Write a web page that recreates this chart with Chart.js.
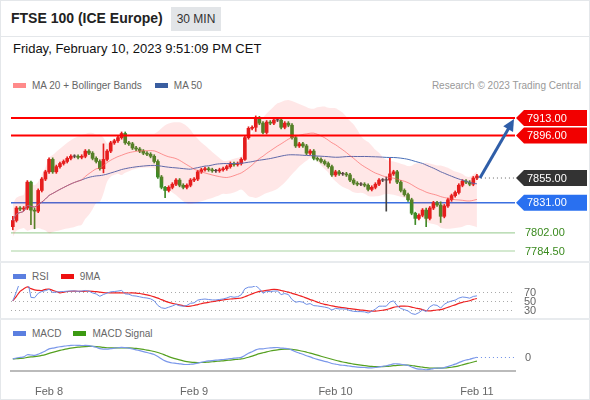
<!DOCTYPE html>
<html>
<head>
<meta charset="utf-8">
<script src="https://cdn.jsdelivr.net/npm/chart.js@4"></script>
<style>
  body { margin:0; width:590px; height:400px; background:#fff; font-family:"Liberation Sans", Arial, sans-serif; position:relative; overflow:hidden; }
  .frame { position:absolute; left:0; top:0; width:588px; height:398px; border:1px solid #e4e7ea; }
  .hdr { position:absolute; left:0; top:0; width:590px; height:36px; border-bottom:1px solid #e4e7ea; }
  .title { position:absolute; left:11px; top:10px; font-size:14px; font-weight:bold; color:#222; }
  .badge { position:absolute; left:171px; top:7px; width:50px; height:24px; background:#e2e5e8; font-size:12px; color:#333; line-height:24px; text-align:center; }
  .date { position:absolute; left:13px; top:41px; font-size:13px; color:#111; }
  .leg { position:absolute; font-size:10px; color:#666; white-space:nowrap; }
  .sw { display:inline-block; width:13px; height:5px; vertical-align:middle; margin-right:6px; margin-top:-2px; }
  .sep { position:absolute; left:0; width:590px; height:2px; background:#e8ebee; }
  canvas { position:absolute; left:0; }
</style>
</head>
<body>
<div class="frame"></div>
<div class="hdr"><div class="title">FTSE 100 (ICE Europe)</div><div class="badge">30 MIN</div></div>
<div class="date">Friday, February 10, 2023 9:51:09 PM CET</div>
<div class="leg" style="left:13px;top:80px"><span class="sw" style="background:#ff8a8a"></span>MA 20 + Bollinger Bands<span class="sw" style="background:#3a5ea0;margin-left:13px"></span>MA 50</div>
<div class="leg" style="right:9px;top:80px;color:#999">Research © 2023 Trading Central</div>
<div class="sep" style="top:261px"></div>
<div class="leg" style="left:13px;top:271px"><span class="sw" style="background:#5b7fe0"></span>RSI<span class="sw" style="background:#ee1111;margin-left:12px"></span>9MA</div>
<div class="sep" style="top:318px"></div>
<div class="leg" style="left:13px;top:328px"><span class="sw" style="background:#5b7fe0"></span>MACD<span class="sw" style="background:#3c9a12;margin-left:12px"></span>MACD Signal</div>
<canvas id="mainChart" style="top:95px" width="590" height="165"></canvas>
<canvas id="rsiChart" style="top:286px" width="590" height="32"></canvas>
<canvas id="macdChart" style="top:340px" width="590" height="58"></canvas>
<script>
// 30 min closes
const closes = [
  7814, 7826, 7825, 7826, 7851, 7824, 7823, 7843, 7854, 7861, 7873, 7861, 7866, 7869, 7871, 7874,
  7876, 7876, 7875, 7876, 7881, 7879, 7874, 7871, 7864, 7873, 7881, 7889, 7891, 7894, 7898, 7889,
  7888, 7884, 7883, 7881, 7879, 7878, 7876, 7871, 7856, 7846, 7843, 7846, 7849, 7853, 7848, 7846,
  7848, 7853, 7854, 7861, 7863, 7864, 7863, 7862, 7862, 7863, 7864, 7866, 7869, 7868, 7869, 7873,
  7894, 7903, 7904, 7913, 7908, 7899, 7909, 7908, 7911, 7911, 7904, 7908, 7906, 7894, 7886, 7888,
  7886, 7879, 7881, 7874, 7873, 7871, 7869, 7866, 7858, 7861, 7859, 7859, 7858, 7853, 7850, 7849,
  7849, 7848, 7844, 7846, 7849, 7853, 7853, 7853, 7859, 7861, 7851, 7843, 7839, 7834, 7821, 7816,
  7819, 7824, 7816, 7826, 7831, 7829, 7818, 7828, 7834, 7838, 7841, 7848, 7852, 7851, 7849, 7855, 7857
];
const firstOpen = 7808;
// notable wicks: index -> [low, high]
const wickExtremes = { 0: [7805, 7818], 5: [7810, 7852], 6: [7806, 7826], 25: [7860, 7888], 42: [7836, 7847],
  64: [7872, 7896], 67: [7900, 7915], 103: [7823, 7856], 104: [7850, 7874], 111: [7810, 7822], 114: [7808, 7826], 118: [7812, 7832] };
const dayLabels = { 10: 'Feb 8', 50: 'Feb 9', 89: 'Feb 10', 128: 'Feb 11' };
const resistance = [7913.00, 7896.00];
const lastPrice = 7855.00;
const pivot = 7831.00;
const supports = [7802.00, 7784.50];
const totalSlots = 139;

const labels = Array.from({ length: totalSlots }, (_, i) => i);
const opens = closes.map((c, i) => i === 0 ? firstOpen : closes[i - 1]);
const bodies = closes.map((c, i) => [opens[i], c === opens[i] ? c + 0.4 : c]);
const wicks = closes.map((c, i) => wickExtremes[i] || [Math.min(c, opens[i]) - 1.5, Math.max(c, opens[i]) + 1.5]);
const candleCol = closes.map((c, i) => c > opens[i] ? '#e31b1b' : c < opens[i] ? '#3f8a26' : '#444');

function sma(arr, n) {
  return arr.map((v, i) => {
    if (v == null) return null;
    const s = arr.slice(Math.max(0, i - n + 1), i + 1).filter(x => x != null);
    return s.reduce((a, b) => a + b, 0) / s.length;
  });
}
function stdev(arr, n, mean) {
  return arr.map((v, i) => {
    const s = arr.slice(Math.max(0, i - n + 1), i + 1);
    return Math.sqrt(s.reduce((a, b) => a + (b - mean[i]) ** 2, 0) / s.length);
  });
}
function ema(arr, n) {
  const k = 2 / (n + 1); let prev = arr[0];
  return arr.map(v => (prev = v * k + prev * (1 - k)));
}

const ma20 = sma(closes, 20);
const sd20 = stdev(closes, 20, ma20);
const bbUp = ma20.map((m, i) => m + 2 * Math.max(sd20[i], 8));
const bbLo = ma20.map((m, i) => m - 2 * Math.max(sd20[i], 8));
const ma50 = sma(closes, 50);

// RSI (Wilder, 14) and its 9 MA
let ag = 0, al = 0;
const rsi = closes.map((c, i) => {
  if (i === 0) return 50;
  const d = c - closes[i - 1];
  const n = Math.min(i, 14);
  ag = (ag * (n - 1) + Math.max(d, 0)) / n;
  al = (al * (n - 1) + Math.max(-d, 0)) / n;
  return al === 0 ? 70 : 100 - 100 / (1 + ag / al);
});
const rsiMa = sma(rsi, 9);

const e12 = ema(closes, 12), e26 = ema(closes, 26);
const macd = closes.map((c, i) => e12[i] - e26[i]);
const signal = ema(macd, 9);

const pad = { left: 11, right: 75, top: 0, bottom: 0 };
const hiddenX = { type: 'category', display: false, offset: true };

function tag(ctx, x, y, text, bg) {
  ctx.save();
  ctx.fillStyle = bg;
  ctx.beginPath();
  ctx.moveTo(x, y); ctx.lineTo(x + 8, y - 8); ctx.lineTo(x + 71, y - 8);
  ctx.lineTo(x + 71, y + 8); ctx.lineTo(x + 8, y + 8); ctx.closePath(); ctx.fill();
  ctx.fillStyle = '#fff'; ctx.font = '11px "Liberation Sans", Arial'; ctx.textBaseline = 'middle';
  ctx.fillText(text, x + 11, y + 0.5);
  ctx.restore();
}

const levelsPlugin = {
  id: 'levels',
  beforeDatasetsDraw(chart) {
    const { ctx, chartArea: a, scales: { x, y } } = chart;
    ctx.save();
    const hline = (v, col, w) => { ctx.strokeStyle = col; ctx.lineWidth = w; ctx.beginPath(); ctx.moveTo(a.left, y.getPixelForValue(v)); ctx.lineTo(a.right, y.getPixelForValue(v)); ctx.stroke(); };
    supports.forEach(v => hline(v, '#a9d3a2', 1.2));
    hline(pivot, '#3b6fe0', 1.5);
    ctx.restore();
  },
  afterDatasetsDraw(chart) {
    const { ctx, chartArea: a, scales: { x, y } } = chart;
    ctx.save();
    resistance.forEach(v => { ctx.strokeStyle = '#f00'; ctx.lineWidth = 2; ctx.beginPath(); ctx.moveTo(a.left, y.getPixelForValue(v)); ctx.lineTo(a.right, y.getPixelForValue(v)); ctx.stroke(); });
    // dotted line from last candle to price tag
    const lx = x.getPixelForValue(closes.length - 1);
    ctx.strokeStyle = '#666'; ctx.lineWidth = 1; ctx.setLineDash([1, 3]);
    ctx.beginPath(); ctx.moveTo(lx, y.getPixelForValue(lastPrice)); ctx.lineTo(a.right, y.getPixelForValue(lastPrice)); ctx.stroke();
    ctx.setLineDash([]);
    // forecast arrow
    const x0 = lx + 3, y0 = y.getPixelForValue(lastPrice);
    const x1 = a.right - 1, y1 = y.getPixelForValue(resistance[0]) + 1;
    const ang = Math.atan2(y1 - y0, x1 - x0);
    ctx.strokeStyle = '#2f5ea8'; ctx.fillStyle = '#2f5ea8'; ctx.lineWidth = 3;
    ctx.beginPath(); ctx.moveTo(x0, y0); ctx.lineTo(x1 - 8 * Math.cos(ang), y1 - 8 * Math.sin(ang)); ctx.stroke();
    ctx.beginPath(); ctx.moveTo(x1, y1);
    ctx.lineTo(x1 - 13 * Math.cos(ang - 0.45), y1 - 13 * Math.sin(ang - 0.45));
    ctx.lineTo(x1 - 13 * Math.cos(ang + 0.45), y1 - 13 * Math.sin(ang + 0.45));
    ctx.closePath(); ctx.fill();
    resistance.forEach(v => tag(ctx, a.right + 1, y.getPixelForValue(v), v.toFixed(2), '#f20000'));
    tag(ctx, a.right + 1, y.getPixelForValue(lastPrice), lastPrice.toFixed(2), '#333');
    tag(ctx, a.right + 1, y.getPixelForValue(pivot), pivot.toFixed(2), '#2970f0');
    ctx.fillStyle = '#3a8a1e'; ctx.font = '11px "Liberation Sans", Arial'; ctx.textBaseline = 'middle';
    supports.forEach(v => ctx.fillText(v.toFixed(2), a.right + 10, y.getPixelForValue(v) + 0.5));
    ctx.restore();
  }
};

new Chart(document.getElementById('mainChart'), {
  type: 'bar',
  data: {
    labels,
    datasets: [
      { type: 'line', data: bbUp, borderWidth: 0, pointRadius: 0, fill: false, tension: 0.3 },
      { type: 'line', data: bbLo, borderWidth: 0, pointRadius: 0, fill: '-1', backgroundColor: 'rgba(255,60,60,0.12)', tension: 0.3 },
      { type: 'line', data: ma20, borderColor: 'rgba(250,90,90,0.6)', borderWidth: 1, pointRadius: 0, tension: 0.3 },
      { type: 'line', data: ma50, borderColor: '#4a6fb8', borderWidth: 1, pointRadius: 0, tension: 0.3 },
      { data: wicks, backgroundColor: candleCol, barThickness: 1, grouped: false },
      { data: bodies, backgroundColor: candleCol, barThickness: 3, grouped: false }
    ]
  },
  options: {
    responsive: false, animation: false, layout: { padding: pad },
    plugins: { legend: { display: false }, tooltip: { enabled: false } },
    scales: { x: hiddenX, y: { display: false, min: 7775.8, max: 7935.2 } }
  },
  plugins: [levelsPlugin]
});

const rsiPlugin = {
  id: 'rsiLevels',
  beforeDatasetsDraw(chart) {
    const { ctx, chartArea: a, scales: { y } } = chart;
    ctx.save();
    ctx.strokeStyle = '#aaa'; ctx.lineWidth = 1; ctx.setLineDash([1, 3]);
    ctx.fillStyle = '#666'; ctx.font = '11px "Liberation Sans", Arial'; ctx.textBaseline = 'middle';
    [70, 50, 30].forEach(v => {
      const py = Math.round(y.getPixelForValue(v)) + 0.5;
      ctx.beginPath(); ctx.moveTo(a.left, py); ctx.lineTo(a.right, py); ctx.stroke();
      ctx.fillText(String(v), a.right + 9, py);
    });
    ctx.restore();
  }
};

new Chart(document.getElementById('rsiChart'), {
  type: 'line',
  data: { labels, datasets: [
    { data: rsi, borderColor: '#6d8ee6', borderWidth: 1, pointRadius: 0 },
    { data: rsiMa, borderColor: '#ee2222', borderWidth: 1.2, pointRadius: 0, tension: 0.3 }
  ] },
  options: {
    responsive: false, animation: false, layout: { padding: pad },
    plugins: { legend: { display: false }, tooltip: { enabled: false } },
    scales: { x: hiddenX, y: { display: false, min: 12.5, max: 82.5 } }
  },
  plugins: [rsiPlugin]
});

const macdLo = Math.min(...macd, ...signal), macdHi = Math.max(...macd, ...signal);
const macdPlugin = {
  id: 'macdZero',
  afterDatasetsDraw(chart) {
    const { ctx, chartArea: a, scales: { x, y } } = chart;
    ctx.save();
    const py = Math.round(y.getPixelForValue(macd[macd.length - 1])) + 0.5;
    ctx.strokeStyle = '#6d8ee6'; ctx.lineWidth = 1; ctx.setLineDash([1, 3]);
    ctx.beginPath(); ctx.moveTo(x.getPixelForValue(closes.length - 1), py); ctx.lineTo(a.right, py); ctx.stroke();
    ctx.fillStyle = '#666'; ctx.font = '11px "Liberation Sans", Arial'; ctx.textBaseline = 'middle';
    ctx.fillText('0', a.right + 10, py);
    ctx.restore();
  }
};

new Chart(document.getElementById('macdChart'), {
  type: 'line',
  data: { labels, datasets: [
    { data: macd, borderColor: '#7b98ea', borderWidth: 1.2, pointRadius: 0, tension: 0.3 },
    { data: signal, borderColor: '#55a020', borderWidth: 1.2, pointRadius: 0, tension: 0.3 }
  ] },
  options: {
    responsive: false, animation: false, layout: { padding: { left: 11, right: 75, top: 4, bottom: 0 } },
    plugins: { legend: { display: false }, tooltip: { enabled: false } },
    scales: {
      x: { type: 'category', offset: true,
        grid: { display: false, drawTicks: true },
        border: { display: true, color: '#bbb', width: 2 },
        ticks: { autoSkip: false, maxRotation: 0, color: '#666', font: { size: 11, family: '"Liberation Sans", Arial' }, padding: 6,
          callback: (v) => dayLabels[v] || '' } },
      y: { display: false, min: macdLo - (macdHi - macdLo) * 0.05, max: macdHi + (macdHi - macdLo) * 0.05 }
    }
  },
  plugins: [macdPlugin]
});
</script>
</body>
</html>
